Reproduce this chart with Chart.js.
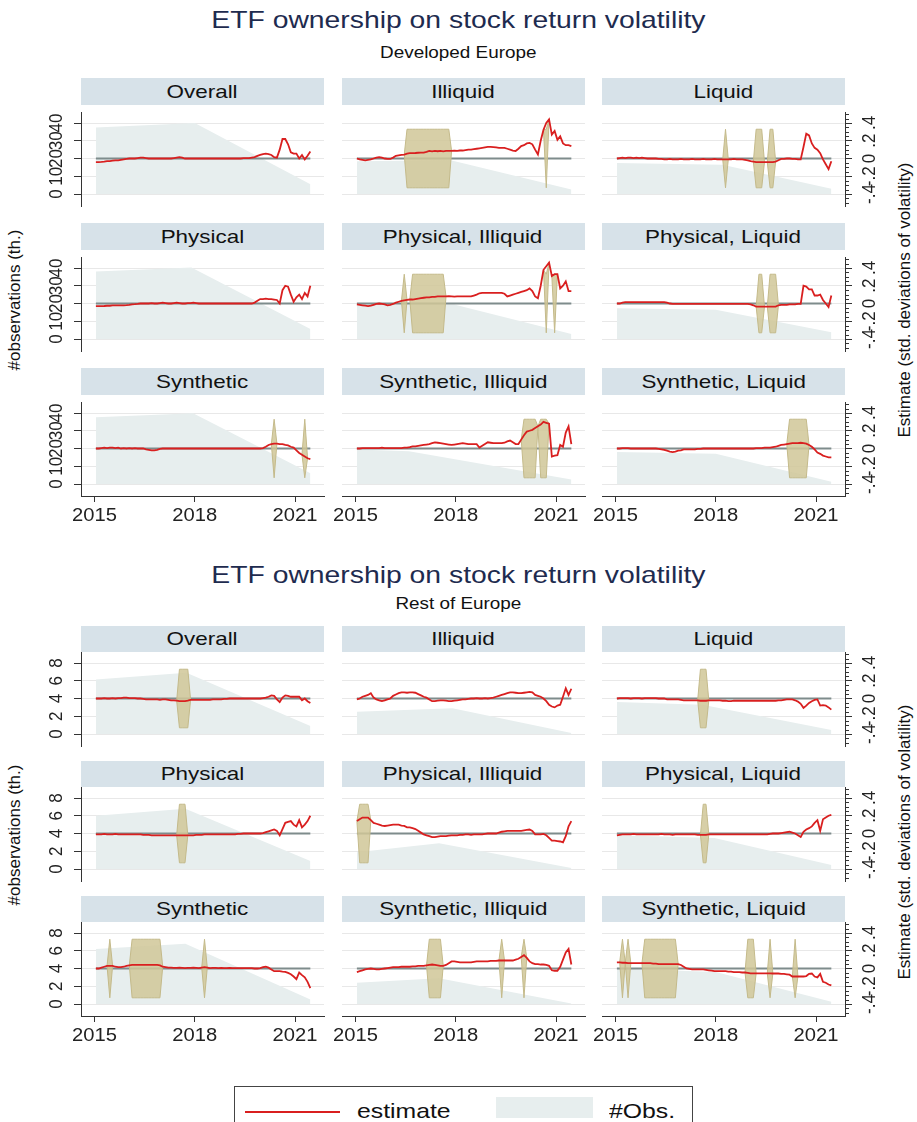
<!DOCTYPE html>
<html>
<head>
<meta charset="utf-8">
<script src="https://cdn.jsdelivr.net/npm/chart.js@4.4.1/dist/chart.umd.min.js"></script>
<style>
  body { margin: 0; background: #fff; }
  #fig { position: relative; width: 917px; height: 1122px; overflow: hidden; background: #fff;
         font-family: "Liberation Sans", Arial, sans-serif; color: #111; }
  .txt { position: absolute; white-space: nowrap; }
  .txt span { display: inline-block; transform: scaleX(1.18); }
  .strip { position: absolute; background: #d7e2e9; text-align: center; }
  .strip span { display: inline-block; transform: scaleX(1.18); }
  .rot { position: absolute; white-space: nowrap; transform: translate(-50%, -50%) rotate(-90deg); }
  canvas { position: absolute; }
</style>
</head>
<body>
<div id="fig"></div>
<script>
// ---- data ----
const xTicks = [2015, 2018, 2021];
const obsTicksDev = [0, 10, 20, 30, 40];
const obsTicksRest = [0, 2, 4, 6, 8];
const estTicks = [-0.4, -0.2, 0, 0.2, 0.4];
const estTickLabels = ["-.4", "-.2", "0", ".2", ".4"];
const panelTitles = ["Overall", "Illiquid", "Liquid", "Physical", "Physical, Illiquid", "Physical, Liquid",
                     "Synthetic", "Synthetic, Illiquid", "Synthetic, Liquid"];

// monthly positions Jan 2015 .. Jun 2021
const months = [];
for (let i = 0; i < 78; i++) months.push(2015 + (i + 0.5) / 12);

// estimates (std. deviations of volatility), one value per month
const devOverall = [-.04,-.04,-.038,-.035,-.03,-.03,-.025,-.02,-.02,-.015,-.01,-.005,0,
  0,0,.005,.01,.01,.005,0,0,0,0,0,0,0,
  0,0,.005,.01,.015,.01,0,0,0,0,0,0,0,
  0,0,0,0,0,0,0,0,0,0,0,0,0,
  0,.005,.005,.005,.01,.015,.03,.04,.05,.055,.05,.04,.015,
  .01,.1,.22,.22,.16,.07,.055,.055,0,.04,-.01,.03,.08];
const devIlliquid = [0,-.01,-.015,-.02,-.015,-.01,0,.01,.015,.01,0,-.005,-.005,
  .01,.03,.035,.04,.045,.055,.06,.06,.062,.065,.066,.066,.075,
  .085,.08,.085,.082,.085,.08,.085,.085,.085,.088,.085,.09,.09,
  .095,.1,.1,.105,.11,.115,.12,.125,.13,.13,.128,.125,.12,
  .12,.12,.11,.1,.09,.085,.11,.14,.15,.17,.175,.16,.1,
  .045,.2,.325,.4,.44,.27,.31,.21,.25,.17,.15,.15,.14];
const devLiquid = [0,.005,.01,.005,.01,.01,.005,.01,.005,.01,.005,0,0,
  0,0,-.005,-.005,-.01,-.01,-.005,-.01,-.01,-.01,-.005,-.01,-.01,
  -.01,-.005,-.01,-.01,-.01,-.005,-.01,-.01,-.01,-.005,-.01,-.01,-.01,
  -.01,-.01,-.01,-.005,-.01,-.01,-.01,-.015,-.02,-.03,-.035,-.04,-.04,
  -.04,-.04,-.04,-.04,-.04,-.035,-.02,-.005,-.005,0,0,-.005,-.005,
  -.01,-.01,.13,.28,.26,.17,.12,.1,.06,-.01,-.065,-.12,-.03];
const devPhysical = [-.03,-.03,-.03,-.028,-.025,-.025,-.022,-.02,-.02,-.02,-.02,-.018,-.015,
  -.01,-.008,-.005,0,0,0,0,.005,0,0,.005,.01,.005,
  0,0,.005,.01,.005,0,0,.005,.005,.01,.005,0,0,
  0,0,0,0,0,0,0,0,0,0,0,0,0,
  0,0,0,0,0,.01,.03,.05,.05,.055,.05,.05,.045,
  .04,0,.15,.2,.19,.1,.02,.07,.1,.05,.12,.08,.2];
const devPhysIll = [-.01,-.015,-.02,-.025,-.03,-.025,-.015,-.005,0,-.005,-.01,-.02,-.015,
  -.005,.01,.02,.03,.035,.04,.045,.045,.05,.055,.06,.065,.07,
  .07,.075,.075,.08,.08,.08,.08,.082,.08,.078,.08,.08,.08,
  .08,.08,.08,.09,.1,.115,.12,.12,.12,.12,.12,.12,.12,
  .12,.11,.08,.09,.1,.11,.12,.13,.14,.15,.17,.14,.08,
  .06,.2,.38,.42,.46,.31,.33,.33,.17,.2,.25,.14,.14];
const devPhysLiq = [0,0,.01,.015,.015,.015,.015,.015,.015,.015,.015,.015,.015,
  .015,.015,.015,.015,.015,.01,0,-.005,-.005,-.005,-.005,-.005,-.005,
  -.005,-.005,-.005,-.005,-.005,-.005,-.005,-.005,-.005,-.005,-.005,-.005,-.005,
  -.005,-.005,-.005,-.005,-.005,-.005,-.005,-.005,-.005,-.01,-.02,-.035,-.035,
  -.035,-.035,-.035,-.035,-.035,-.035,-.02,-.015,-.015,-.015,-.01,-.01,-.01,
  -.005,-.005,.2,.19,.16,.16,.09,.09,.1,.04,0,-.04,.09];
const devSynthetic = [0,0,.005,.01,.005,.01,.01,.005,.01,0,.005,0,.005,
  0,.005,0,0,0,-.01,-.015,-.02,-.02,-.015,-.005,0,0,
  0,0,0,0,0,0,0,0,0,0,0,0,0,
  0,0,0,0,0,0,0,0,0,0,0,0,0,
  0,0,0,0,0,0,0,0,.005,.02,.04,.05,.055,
  .055,.05,.05,.04,.035,.02,.01,-.02,-.05,-.07,-.09,-.11,-.12];
const devSynIll = [0,0,.005,.005,.005,.005,.005,.005,.005,.01,.005,.005,.005,
  .005,.005,.005,.005,.01,.01,.015,.025,.025,.03,.035,.04,.045,
  .05,.06,.07,.065,.06,.055,.05,.045,.04,.045,.05,.055,.06,
  .055,.05,.05,.05,.05,.01,.03,.05,.07,.065,.06,.06,.06,
  .06,.065,.08,.09,.07,.05,.05,.1,.15,.19,.2,.21,.23,
  .25,.27,.3,.29,.28,-.09,-.08,-.075,.04,.02,.18,.25,.05];
const devSynLiq = [0,0,.005,.005,.005,0,0,0,0,0,0,0,0,
  0,0,-.005,-.01,-.015,-.025,-.035,-.04,-.035,-.025,-.02,-.01,-.01,
  -.01,-.01,-.01,-.005,-.005,0,0,0,0,0,0,0,0,
  0,0,0,0,0,0,0,0,0,0,0,.005,.005,
  .005,.01,.01,.01,.015,.02,.03,.04,.045,.05,.055,.06,.06,
  .06,.065,.06,.055,.04,.02,-.01,-.045,-.06,-.08,-.09,-.1,-.1];

const restOverall = [0,0,0,.005,0,0,.005,0,.005,.005,.01,.01,.005,
  .005,.005,0,0,-.005,-.01,-.01,-.01,-.01,-.01,-.015,-.01,-.01,
  -.015,-.02,-.02,-.025,-.03,-.03,-.03,-.025,-.015,-.015,-.015,-.015,-.015,
  -.015,-.015,-.015,-.01,-.01,-.01,-.01,-.005,-.005,0,0,0,0,
  0,0,0,0,0,0,0,0,.005,.01,.02,.035,.03,
  -.01,-.04,.01,.035,.03,.02,.02,.02,.02,-.02,0,-.03,-.05];
const restIlliquid = [-.01,0,.02,.03,.04,.06,.01,-.01,-.02,-.03,-.02,-.01,0,
  .03,.045,.06,.07,.07,.065,.07,.07,.065,.05,.035,.02,.01,
  -.01,-.03,-.03,-.025,-.02,-.02,-.025,-.03,-.03,-.025,-.02,-.015,-.01,
  -.01,-.005,0,0,.005,0,0,.005,0,.005,.01,.02,.03,
  .04,.05,.06,.07,.07,.065,.06,.06,.065,.07,.075,.07,.04,
  .03,.02,0,-.03,-.07,-.09,-.1,-.08,-.07,.02,.115,.04,.11];
const restLiquid = [0,.005,.005,.005,.005,0,.005,.005,.005,0,.005,.005,.005,
  .005,.005,0,0,0,-.01,-.01,-.01,-.01,-.01,-.015,-.02,-.02,
  -.02,-.02,-.02,-.02,-.025,-.025,-.025,-.02,-.02,-.02,-.02,-.02,-.025,
  -.025,-.03,-.03,-.025,-.025,-.025,-.025,-.025,-.025,-.025,-.025,-.025,-.025,
  -.025,-.025,-.025,-.025,-.025,-.025,-.02,-.02,-.015,-.01,-.01,-.01,-.02,
  -.035,-.06,-.105,-.08,-.05,-.03,-.015,-.01,-.08,-.075,-.08,-.1,-.125];
const restPhysical = [-.01,-.01,-.01,-.005,-.01,-.01,-.01,-.005,-.01,-.01,-.01,-.01,-.01,
  -.01,-.01,-.01,-.01,-.015,-.015,-.015,-.02,-.02,-.02,-.02,-.02,-.02,
  -.02,-.02,-.02,-.02,-.02,-.02,-.02,-.02,-.02,-.02,-.015,-.015,-.015,
  -.01,-.01,-.01,-.01,-.01,-.01,-.01,-.01,-.01,-.01,-.01,-.01,-.005,
  -.005,0,0,0,0,0,0,0,.005,.015,.025,.035,.045,
  .03,-.02,.05,.12,.13,.14,.1,.08,.15,.07,.1,.14,.2];
const restPhysIll = [.14,.16,.18,.18,.18,.15,.12,.11,.1,.09,.085,.09,.095,
  .1,.1,.1,.09,.085,.07,.07,.06,.05,.03,.01,-.01,-.02,
  -.03,-.04,-.04,-.035,-.03,-.03,-.03,-.025,-.02,-.02,-.02,-.015,-.015,
  -.01,-.01,-.015,-.01,-.01,-.01,-.01,-.005,0,0,0,0,.01,
  .02,.025,.03,.03,.03,.03,.03,.03,.035,.04,.045,.03,-.01,
  -.01,-.01,-.005,-.02,-.05,-.08,-.08,-.085,-.09,-.1,-.03,.08,.14];
const restPhysLiq = [-.02,-.015,-.01,-.01,-.01,-.01,-.005,-.01,-.01,-.01,-.01,-.01,-.01,
  -.01,-.01,-.01,-.005,-.01,-.01,-.01,-.015,-.01,-.01,-.01,-.01,-.01,
  -.01,-.01,-.01,-.015,-.015,-.015,-.015,-.01,-.01,-.01,-.01,-.01,-.01,
  -.01,-.01,-.01,-.01,-.01,-.01,-.01,-.01,-.01,-.01,-.01,-.01,-.01,
  -.01,-.01,-.01,-.005,0,0,0,.005,.01,.015,.02,.01,0,
  -.02,-.04,.02,.045,.06,.08,.12,.15,.03,.16,.18,.2,.21];
const restSynthetic = [0,0,.01,.02,.03,.03,.03,.02,.015,.015,.02,.03,.035,
  .04,.04,.04,.04,.04,.04,.04,.04,.04,.04,.035,.02,.015,
  .01,.01,.008,.008,.01,.008,.005,.008,.008,.01,.008,.005,.01,
  .015,.01,.005,.008,.008,.005,.008,.005,.005,.008,.005,.005,.005,
  .005,.005,.005,.005,.005,0,0,.005,.015,.02,.01,-.01,-.03,
  -.03,-.03,-.035,-.038,-.05,-.065,-.09,-.12,-.045,-.075,-.1,-.15,-.22];
const restSynIll = [-.04,-.03,-.02,-.01,-.005,0,-.005,-.01,-.01,-.005,0,.005,.01,
  .015,.015,.015,.02,.02,.02,.02,.025,.025,.03,.03,.03,.035,
  .04,.045,.04,.035,.03,.03,.04,.06,.08,.08,.075,.07,.07,
  .07,.07,.07,.075,.08,.08,.08,.08,.08,.085,.085,.085,.09,
  .09,.09,.09,.09,.09,.1,.11,.13,.15,.12,.08,.06,.05,
  .05,.045,.045,.04,.03,-.02,-.025,-.025,.02,.1,.18,.22,.045];
const restSynLiq = [.07,.07,.065,.065,.06,.06,.06,.06,.06,.06,.06,.06,.06,
  .055,.055,.05,.05,.05,.05,.05,.05,.05,.05,.04,.02,0,
  -.005,-.01,-.01,-.01,-.01,-.01,-.015,-.02,-.025,-.03,-.03,-.03,-.03,
  -.03,-.035,-.035,-.04,-.04,-.04,-.045,-.045,-.05,-.055,-.055,-.055,-.055,
  -.055,-.055,-.055,-.055,-.056,-.056,-.056,-.06,-.06,-.065,-.07,-.09,-.09,
  -.09,-.09,-.09,-.085,-.06,-.056,-.09,-.1,-.06,-.15,-.16,-.18,-.19];

// #obs (thousands): corner points of the observation area [year, value]
const obsDev = [
  [[2015.04, 37.5], [2018.0, 40], [2021.46, 5.5]],
  [[2015.04, 18.5], [2017.85, 19], [2021.46, 2.5]],
  [[2015.04, 17.5], [2018.2, 16.5], [2021.46, 3]],
  [[2015.04, 38], [2017.9, 40.3], [2021.46, 5.6]],
  [[2015.04, 19.5], [2017.95, 19.5], [2021.46, 2.8]],
  [[2015.04, 17.3], [2018.0, 16.5], [2021.46, 3.8]],
  [[2015.04, 37.6], [2017.95, 39.8], [2021.46, 6]],
  [[2015.04, 19.5], [2016.6, 18.5], [2021.46, 2.5]],
  [[2015.04, 18], [2018.0, 17], [2021.46, 1.3]]
];
const obsRest = [
  [[2015.04, 6.15], [2017.75, 6.9], [2021.46, 0.9]],
  [[2015.04, 2.5], [2017.9, 2.9], [2021.46, 0.1]],
  [[2015.04, 3.6], [2017.6, 3.3], [2021.46, 0.45]],
  [[2015.04, 6.0], [2017.72, 6.8], [2021.46, 0.9]],
  [[2015.04, 1.9], [2017.5, 2.9], [2021.46, 0.1]],
  [[2015.04, 3.8], [2017.96, 3.5], [2021.46, 0.45]],
  [[2015.04, 6.2], [2017.72, 6.8], [2021.46, 0.5]],
  [[2015.04, 2.4], [2017.5, 2.9], [2021.46, 0.05]],
  [[2015.04, 4.0], [2018.0, 3.6], [2021.46, 0.25]]
];

// months where the confidence band runs off the scale [first, last]
const ciCap = 0.33;
const ciDev = [
  [],
  [[18, 33], [68, 68]],
  [[39, 39], [50, 52], [55, 56]],
  [],
  [[17, 17], [20, 31], [68, 68], [71, 71]],
  [[51, 52], [55, 57]],
  [[64, 64], [75, 75]],
  [[60, 64], [66, 68]],
  [[62, 68]]
];
const ciRest = [
  [[30, 33]],
  [],
  [[30, 32]],
  [[30, 32]],
  [[1, 4]],
  [[31, 32]],
  [[5, 5], [13, 23], [39, 39]],
  [[26, 30], [52, 52], [60, 60]],
  [[2, 2], [4, 4], [10, 21], [47, 49], [55, 55], [64, 64]]
];

const estDev = [devOverall, devIlliquid, devLiquid, devPhysical, devPhysIll, devPhysLiq, devSynthetic, devSynIll, devSynLiq];
const estRest = [restOverall, restIlliquid, restLiquid, restPhysical, restPhysIll, restPhysLiq, restSynthetic, restSynIll, restSynLiq];

// ---- layout ----
const FONT = '"Liberation Sans", Arial, sans-serif';
const axisCol = "#333";
const colLeft = [81, 341.5, 602];
const plotW = 243, plotH = 94;
const padL = 40, padR = 40, padB = 40;
const halves = [
  { title: "Developed Europe", titleY: 20, subY: 53, plotTop: [112, 257, 402], stripTop: [78, 223, 368], stripH: 27,
    obsMin: -6.76, obsMax: 46.2, obsTicks: obsTicksDev, est: estDev, obs: obsDev, ci: ciDev, leftY: 300, rightY: 300 },
  { title: "Rest of Europe", titleY: 575, subY: 604, plotTop: [652, 787, 922], stripTop: [626, 761, 896], stripH: 26,
    obsMin: -1.352, obsMax: 9.24, obsTicks: obsTicksRest, est: estRest, obs: obsRest, ci: ciRest, leftY: 835, rightY: 842 }
];
const xMin = 2015 - 13.5 / 33.42, xMax = xMin + plotW / 33.42;

const fig = document.getElementById("fig");

function addText(html, cls, css) {
  const d = document.createElement("div");
  d.className = cls;
  d.innerHTML = html;
  Object.assign(d.style, css);
  fig.appendChild(d);
  return d;
}

function canvasLabel(ctx, text, x, y, rot, sx, baseline) {
  ctx.save();
  ctx.translate(x, y);
  ctx.scale(sx, 1);
  if (rot) ctx.rotate(rot);
  ctx.textAlign = "center";
  ctx.textBaseline = baseline;
  ctx.fillText(text, 0, 0);
  ctx.restore();
}

function blobPolygon(est, range) {
  const a = range[0], b = range[1];
  const pts = [];
  if (a > 0) pts.push({ x: months[a - 1], y: est[a - 1] });
  for (let i = a; i <= b; i++) pts.push({ x: months[i], y: ciCap });
  if (b < 77) pts.push({ x: months[b + 1], y: est[b + 1] });
  for (let i = b; i >= a; i--) pts.push({ x: months[i], y: -ciCap });
  pts.push(pts[0]);
  return pts;
}

function makePanel(h, r, c) {
  const H = halves[h];
  const k = r * 3 + c;
  const est = H.est[k];
  const bottom = r === 2;

  const canvas = document.createElement("canvas");
  canvas.width = plotW + padL + padR;
  canvas.height = plotH + padB;
  canvas.style.left = (colLeft[c] - padL) + "px";
  canvas.style.top = H.plotTop[r] + "px";
  fig.appendChild(canvas);

  const datasets = [
    { label: "estimate", data: est.map((v, i) => ({ x: months[i], y: v })), yAxisID: "yEst",
      borderColor: "#d91f1f", borderWidth: 1.8, pointRadius: 0, fill: false, order: 0 }
  ];
  H.ci[k].forEach(rg => {
    datasets.push({ label: "ci", data: blobPolygon(est, rg), yAxisID: "yEst",
      borderColor: "#c4ba8a", borderWidth: 1, backgroundColor: "rgba(208,199,152,0.85)",
      pointRadius: 0, fill: "shape", order: 1 });
  });
  datasets.push({ label: "zero", data: [{ x: months[0], y: 0 }, { x: months[77], y: 0 }], yAxisID: "yEst",
    borderColor: "#7e8c8c", borderWidth: 2, pointRadius: 0, fill: false, order: 2 });
  datasets.push({ label: "#Obs.", data: H.obs[k].map(p => ({ x: p[0], y: p[1] })), yAxisID: "yObs",
    borderWidth: 0, borderColor: "rgba(0,0,0,0)", backgroundColor: "#e7eeee", pointRadius: 0, fill: "origin", order: 3 });

  const panelText = {
    id: "panelText",
    afterDraw(chart) {
      const ctx = chart.ctx;
      const ca = chart.chartArea;
      ctx.fillStyle = "#222";
      if (c === 0) {
        ctx.font = "17px " + FONT;
        const ys = chart.scales.yObs;
        H.obsTicks.forEach(v => canvasLabel(ctx, String(v), ca.left - 19, ys.getPixelForValue(v), -Math.PI / 2, 1.1, "alphabetic"));
      }
      if (c === 2) {
        const ys = chart.scales.yEst;
        ctx.font = "17px " + FONT;
        estTicks.forEach((v, i) => canvasLabel(ctx, estTickLabels[i], ca.right + 30, ys.getPixelForValue(v), -Math.PI / 2, 1.1, "alphabetic"));
        // minor ticks
        ctx.strokeStyle = axisCol;
        ctx.lineWidth = 1;
        for (let m = -10; m <= 10; m++) {
          if (m % 4 === 0) continue;
          const y = Math.round(ys.getPixelForValue(m * 0.05)) + 0.5;
          if (y < ca.top || y > ca.bottom) continue;
          ctx.beginPath();
          ctx.moveTo(ca.right, y);
          ctx.lineTo(ca.right + 4, y);
          ctx.stroke();
        }
      }
      if (bottom) {
        const xs = chart.scales.x;
        ctx.font = "18px " + FONT;
        xTicks.forEach(v => canvasLabel(ctx, String(v), xs.getPixelForValue(v), ca.bottom + 20, 0, 1.12, "middle"));
      }
    }
  };

  new Chart(canvas, {
    type: "line",
    data: { datasets },
    options: {
      responsive: false,
      animation: false,
      layout: { padding: 0 },
      elements: { line: { tension: 0 } },
      plugins: { legend: { display: false }, tooltip: { enabled: false } },
      scales: {
        x: {
          type: "linear", min: xMin, max: xMax,
          afterBuildTicks: s => { s.ticks = xTicks.map(v => ({ value: v })); },
          afterFit: s => { s.height = padB; },
          ticks: { display: false },
          grid: { display: bottom, drawOnChartArea: false, tickLength: 6, tickColor: axisCol },
          border: { display: bottom, color: axisCol }
        },
        yObs: {
          type: "linear", position: "left", min: H.obsMin, max: H.obsMax,
          afterBuildTicks: s => { s.ticks = H.obsTicks.map(v => ({ value: v })); },
          afterFit: s => { s.width = padL; },
          ticks: { display: false },
          grid: { color: "#e8e8e8", drawTicks: c === 0, tickLength: 7, tickColor: axisCol },
          border: { display: c === 0, color: axisCol }
        },
        yEst: {
          type: "linear", position: "right", min: -0.535, max: 0.524,
          afterBuildTicks: s => { s.ticks = estTicks.map(v => ({ value: v })); },
          afterFit: s => { s.width = padR; },
          ticks: { display: false },
          grid: { display: c === 2, drawOnChartArea: false, tickLength: 7, tickColor: axisCol },
          border: { display: c === 2, color: axisCol }
        }
      }
    },
    plugins: [panelText]
  });
}

halves.forEach((H, h) => {
  addText("<span>ETF ownership on stock return volatility</span>", "txt",
    { left: "0px", width: "917px", textAlign: "center", top: (H.titleY - 14) + "px", height: "28px",
      lineHeight: "28px", fontSize: "24px", color: "#1e2b4f" });
  addText("<span>" + H.title + "</span>", "txt",
    { left: "0px", width: "917px", textAlign: "center", top: (H.subY - 10) + "px", height: "20px",
      lineHeight: "20px", fontSize: "16px" });
  addText("#observations (th.)", "rot", { left: "15px", top: H.leftY + "px", fontSize: "17px" });
  addText("Estimate (std. deviations of volatility)", "rot", { left: "905px", top: H.rightY + "px", fontSize: "17px" });
  for (let r = 0; r < 3; r++) {
    for (let c = 0; c < 3; c++) {
      addText("<span>" + panelTitles[r * 3 + c] + "</span>", "strip",
        { left: colLeft[c] + "px", width: plotW + "px", top: H.stripTop[r] + "px", height: H.stripH + "px",
          lineHeight: H.stripH + "px", fontSize: "19px" });
      makePanel(h, r, c);
    }
  }
});

// legend
const box = document.createElement("div");
Object.assign(box.style, { position: "absolute", left: "234px", top: "1086px", width: "457px", height: "60px",
  border: "1px solid #444", background: "#fff" });
fig.appendChild(box);
addText("", "txt", { left: "245px", top: "1111px", width: "95px", height: "2px", background: "#d91f1f" });
addText("<span>estimate</span>", "txt", { left: "357px", top: "1098px", height: "26px", lineHeight: "26px", fontSize: "21px" });
addText("", "txt", { left: "496px", top: "1097px", width: "97px", height: "21px", background: "#e7eeee" });
addText("<span>#Obs.</span>", "txt", { left: "609px", top: "1098px", height: "26px", lineHeight: "26px", fontSize: "21px" });
document.querySelectorAll("#fig .txt span").forEach(s => { if (s.parentNode.style.left !== "0px") s.style.transformOrigin = "left center"; });
</script>
</body>
</html>
